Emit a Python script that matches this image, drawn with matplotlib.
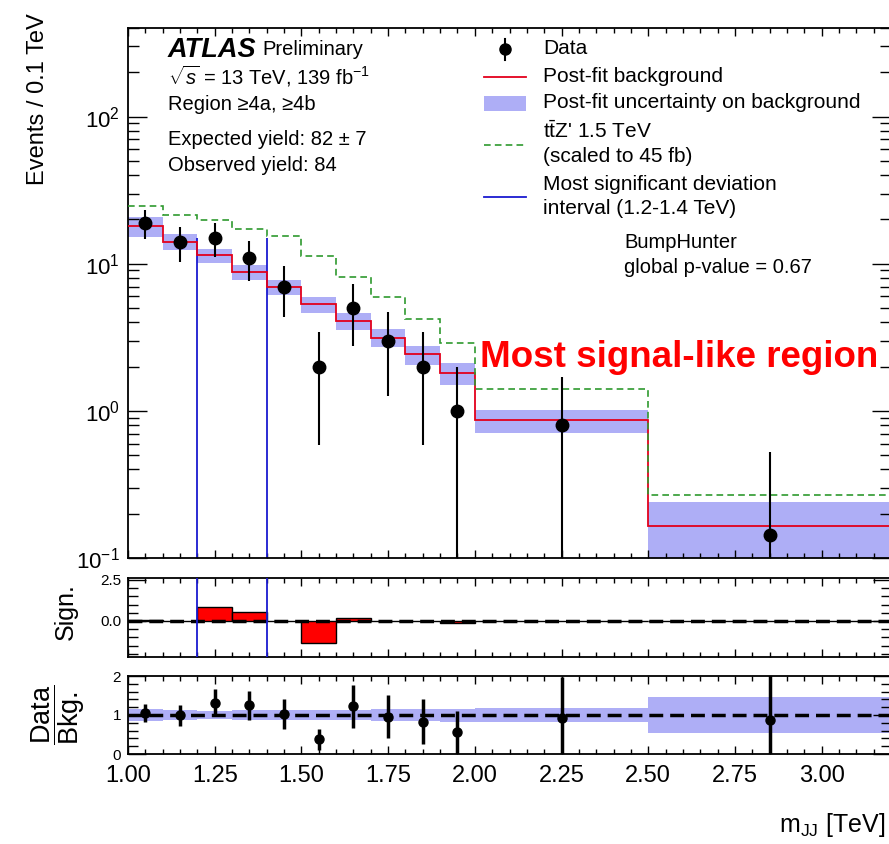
import numpy as np
import matplotlib
matplotlib.use("Agg")
import matplotlib.pyplot as plt
from matplotlib.ticker import MultipleLocator, LogLocator, NullFormatter

plt.rcParams["font.family"] = ["Liberation Sans", "DejaVu Sans"]
plt.rcParams["mathtext.fontset"] = "custom"
plt.rcParams["mathtext.rm"] = "Liberation Sans"
plt.rcParams["mathtext.it"] = "Liberation Sans:italic"
plt.rcParams["mathtext.bf"] = "Liberation Sans:bold"

# =========================
# DATA (events / 0.1 TeV)
# =========================
edges = [1.0, 1.1, 1.2, 1.3, 1.4, 1.5, 1.6, 1.7, 1.8, 1.9, 2.0, 2.5, 3.2]
data = [19, 14, 15, 11, 7, 2, 5, 3, 2, 1, 0.8, 0.143]
data_err = [4.36, 3.74, 3.87, 3.32, 2.65, 1.41, 2.24, 1.73, 1.41, 1.0, 0.89, 0.38]
bkg = [18.1, 14.1, 11.4, 8.8, 6.9, 5.3, 4.1, 3.15, 2.42, 1.80, 0.86, 0.165]
bkg_unc = [2.8, 1.7, 1.25, 1.07, 0.8, 0.68, 0.55, 0.45, 0.36, 0.3, 0.15, 0.075]
sig_bkg = [24.5, 21.4, 19.7, 17.3, 15.5, 11.2, 8.1, 5.9, 4.2, 2.9, 1.4, 0.27]
signif = [0.08, 0.0, 0.87, 0.55, 0.0, -1.34, 0.17, 0.0, 0.0, -0.1, 0.0, 0.0]
interval = [1.2, 1.4]
interval_top = 15.0

RED = "#e3001b"
BAND = "#aeaef6"
GREEN = "#2f9a2f"
BLUE = "#1a1ad0"

edges = np.array(edges)
centers = 0.5 * (edges[:-1] + edges[1:])
widths = np.diff(edges)
data = np.array(data)
data_err = np.array(data_err)
bkg = np.array(bkg)
bkg_unc = np.array(bkg_unc)

W, H = 889, 844
fig = plt.figure(figsize=(W / 100, H / 100), dpi=100)


def box(left, top, right, bottom):
    return [left / W, 1 - bottom / H, (right - left) / W, (bottom - top) / H]


ax = fig.add_axes(box(128, 28, 891, 558))
ax_s = fig.add_axes(box(128, 578, 891, 657))
ax_r = fig.add_axes(box(128, 676, 891, 754))

# =========================
# MAIN PANEL
# =========================
ax.set_yscale("log")
ax.bar(edges[:-1], 2 * bkg_unc, bottom=bkg - bkg_unc, width=widths,
       align="edge", color=BAND, linewidth=0, zorder=1)
ax.stairs(bkg, edges, baseline=None, color=RED, linewidth=1.3, zorder=3)
ax.stairs(sig_bkg, edges, baseline=None, color=GREEN, linewidth=1.2,
          linestyle=(0, (4, 2.5)), zorder=3)
ax.vlines(interval, 0.01, interval_top, color=BLUE, linewidth=1.3, zorder=2)
ax.errorbar(centers, data, yerr=data_err, fmt="o", color="black", markersize=9,
            elinewidth=1.5, capsize=0, zorder=5)
ax.set_xlim(1.0, 3.2)
ax.set_ylim(0.1, 400)

ax.text(0.0524, 0.9585, "ATLAS", transform=ax.transAxes, fontsize=19.5,
        fontweight="bold", fontstyle="italic", va="center")
ax.text(0.1756, 0.9585, "Preliminary", transform=ax.transAxes, fontsize=14.5, va="center")
ax.text(0.0524, 0.9094, r"$\sqrt{s}$ = 13 TeV, 139 fb$^{-1}$", transform=ax.transAxes,
        fontsize=14.5, va="center")
ax.text(0.0524, 0.8566, "Region \u22654a, \u22654b", transform=ax.transAxes,
        fontsize=14.5, va="center")
ax.text(0.0524, 0.7887, "Expected yield: 82 \u00b1 7", transform=ax.transAxes,
        fontsize=14.5, va="center")
ax.text(0.0524, 0.7415, "Observed yield: 84", transform=ax.transAxes,
        fontsize=14.5, va="center")
ax.text(0.650, 0.5962, "BumpHunter", transform=ax.transAxes, fontsize=14.5, va="center")
ax.text(0.650, 0.549, "global p-value = 0.67", transform=ax.transAxes, fontsize=14.5,
        va="center")
ax.text(0.4613, 0.3774, "Most signal-like region", transform=ax.transAxes, fontsize=26.5,
        fontweight="bold", color="red", va="center")

# legend (drawn by hand)
hx0, hx1, tx = 0.4666, 0.5216, 0.5439


def fy(py):
    return 1 - (py - 28) / 530


tr = ax.transAxes
ax.plot([(hx0 + hx1) / 2] * 2, [fy(39), fy(60)], color="black", lw=1.5, transform=tr)
ax.plot((hx0 + hx1) / 2, fy(49), "o", color="black", markersize=8, transform=tr)
ax.plot([hx0, hx1], [fy(77)] * 2, color=RED, lw=1.3, transform=tr)
ax.add_patch(plt.Rectangle((hx0, fy(111)), hx1 - hx0, fy(96) - fy(111), color=BAND,
                           transform=tr, linewidth=0))
ax.plot([hx0, hx1], [fy(145)] * 2, color=GREEN, lw=1.2, ls=(0, (4, 2.5)), transform=tr)
ax.plot([hx0, hx1], [fy(197)] * 2, color=BLUE, lw=1.3, transform=tr)
labels = [(48, "Data"), (76, "Post-fit background"),
          (103, "Post-fit uncertainty on background"),
          (131, r"t$\bar{\mathrm{t}}$Z' 1.5 TeV"), (157, "(scaled to 45 fb)"),
          (184, "Most significant deviation"), (208, "interval (1.2-1.4 TeV)")]
for py, lab in labels:
    ax.text(tx, fy(py), lab, transform=tr, fontsize=15, va="center")

# =========================
# SIGNIFICANCE PANEL
# =========================
ax_s.bar(edges[:-1], signif, width=widths, align="edge", color="red",
         edgecolor="black", linewidth=1.0, zorder=2)
ax_s.axhline(0, color="black", linewidth=2.5, linestyle=(0, (4, 2)), zorder=3)
ax_s.axvline(interval[0], color=BLUE, linewidth=1.3, zorder=4)
ax_s.axvline(interval[1], color=BLUE, linewidth=1.3, zorder=4)
ax_s.set_xlim(1.0, 3.2)
ax_s.set_ylim(-2.2, 2.62)
ax_s.yaxis.set_major_locator(MultipleLocator(2.5))
ax_s.yaxis.set_minor_locator(MultipleLocator(0.5))
ax_s.yaxis.set_major_formatter(matplotlib.ticker.FormatStrFormatter("%.1f"))

# =========================
# RATIO PANEL
# =========================
rel = bkg_unc / bkg
ax_r.bar(edges[:-1], 2 * rel, bottom=1 - rel, width=widths, align="edge",
         color=BAND, linewidth=0, zorder=1)
ax_r.axhline(1, color="black", linewidth=2.5, linestyle=(0, (4, 2)), zorder=3)
ax_r.errorbar(centers, data / bkg, yerr=data_err / bkg, fmt="o", color="black",
              markersize=6.5, elinewidth=2.5, capsize=0, zorder=5)
ax_r.set_xlim(1.0, 3.2)
ax_r.set_ylim(0, 2)
ax_r.yaxis.set_major_locator(MultipleLocator(1))
ax_r.yaxis.set_minor_locator(MultipleLocator(0.2))

# =========================
# TICKS / SPINES
# =========================
for a in (ax, ax_s, ax_r):
    a.xaxis.set_major_locator(MultipleLocator(0.25))
    a.xaxis.set_minor_locator(MultipleLocator(0.05))
    a.tick_params(which="both", direction="in", top=True, right=True, width=1.0)
    a.tick_params(axis="x", which="major", length=6)
    a.tick_params(axis="x", which="minor", length=3.5)
    for sp in a.spines.values():
        sp.set_linewidth(1.3)

ax.yaxis.set_major_locator(LogLocator(base=10, numticks=10))
ax.yaxis.set_minor_locator(LogLocator(base=10, subs=np.arange(2, 10), numticks=10))
ax.yaxis.set_minor_formatter(NullFormatter())
ax.tick_params(axis="y", which="major", length=14, labelsize=16, pad=6)
ax.tick_params(axis="y", which="minor", length=8)
ax.tick_params(axis="x", labelbottom=False)

for a in (ax_s, ax_r):
    a.tick_params(axis="y", which="major", length=13, labelsize=11, pad=5)
    a.tick_params(axis="y", which="minor", length=7)
ax_s.tick_params(axis="x", labelbottom=False)
ax_r.tick_params(axis="x", labelsize=17, pad=8)
ax_r.xaxis.set_major_formatter(matplotlib.ticker.FormatStrFormatter("%.2f"))

fig.text(38 / W, 1 - 13 / H, "Events / 0.1 TeV", rotation=90, ha="center", va="top",
         fontsize=17)
fig.text(66 / W, 1 - 612 / H, "Sign.", rotation=90, ha="center", va="center",
         fontsize=18)
fig.text(58 / W, 1 - 715 / H, r"$\dfrac{\mathrm{Data}}{\mathrm{Bkg.}}$", rotation=90,
         ha="center", va="center", fontsize=19.5)
fig.text(885 / W, 1 - 825 / H, r"m$_{\mathrm{JJ}}$ [TeV]", ha="right", va="center",
         fontsize=18)

fig.savefig("out.png", dpi=100)
